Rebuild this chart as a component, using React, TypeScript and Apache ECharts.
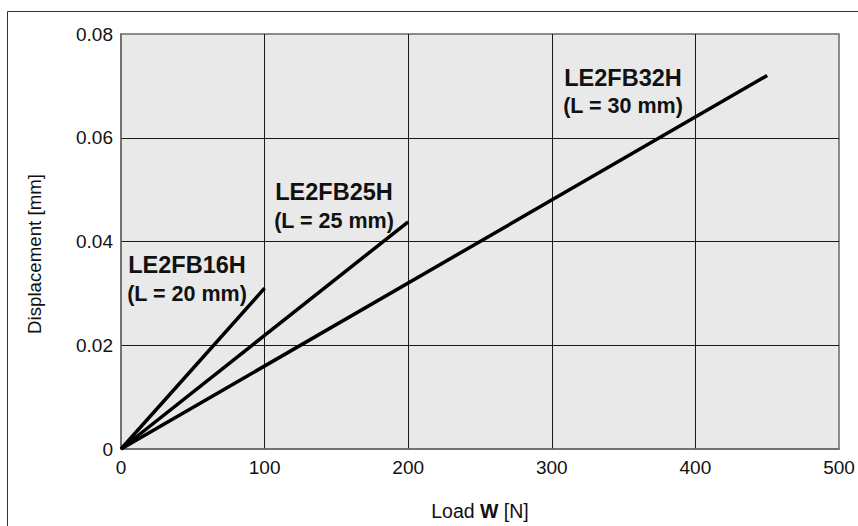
import React, { useEffect, useRef } from "react";
import * as echarts from "echarts";

const xTicks = [0, 100, 200, 300, 400, 500];
const yTicks = [0, 0.02, 0.04, 0.06, 0.08];

const seriesNames = ["LE2FB16H", "LE2FB25H", "LE2FB32H"];
const seriesSub = ["(L = 20 mm)", "(L = 25 mm)", "(L = 30 mm)"];
const loads16 = [0, 100];
const disp16 = [0, 0.031];
const loads25 = [0, 200];
const disp25 = [0, 0.0438];
const loads32 = [0, 450];
const disp32 = [0, 0.072];

const FONT = "'Liberation Sans', Arial, Helvetica, sans-serif";

export default function App() {
  const ref = useRef<HTMLDivElement>(null);
  useEffect(() => {
    if (!ref.current) return;
    const chart = echarts.init(ref.current, undefined, { renderer: "svg" });
    const mk = (xs: number[], ys: number[]) => xs.map((x, i) => [x, ys[i]]);
    const labelPos = [
      { x: 187, y1: 264.5, y2: 293.5 },
      { x: 334, y1: 191.5, y2: 220.5 },
      { x: 623, y1: 77.5, y2: 106 },
    ];
    const graphics: any[] = [
      { type: "line", shape: { x1: 7.5, y1: 11.5, x2: 858, y2: 11.5 }, style: { stroke: "#333", lineWidth: 1 } },
      { type: "line", shape: { x1: 7.5, y1: 11.5, x2: 7.5, y2: 526 }, style: { stroke: "#333", lineWidth: 1 } },
      {
        type: "text",
        x: 34,
        y: 254,
        rotation: Math.PI / 2,
        style: { text: "Displacement [mm]", font: `18.7px ${FONT}`, fill: "#111", textAlign: "center", textVerticalAlign: "middle" },
      },
    ];
    labelPos.forEach((p, i) => {
      graphics.push({
        type: "text", x: p.x, y: p.y1, z: 10,
        style: { text: seriesNames[i], font: `bold 23.5px ${FONT}`, fill: "#111", textAlign: "center", textVerticalAlign: "middle" },
      });
      graphics.push({
        type: "text", x: p.x, y: p.y2, z: 10,
        style: { text: seriesSub[i], font: `bold 21.5px ${FONT}`, fill: "#111", textAlign: "center", textVerticalAlign: "middle" },
      });
    });
    const lineStyle = { color: "#000", width: 3.5 };
    chart.setOption({
      animation: false,
      backgroundColor: "#fff",
      grid: {
        left: 121, top: 34, right: 19, bottom: 76,
        show: true, backgroundColor: "#e8e9e8", borderColor: "#6a6a6a", borderWidth: 1.5,
      },
      xAxis: {
        type: "value", min: xTicks[0], max: xTicks[xTicks.length - 1], interval: 100,
        name: "Load {b|W} [N]",
        nameLocation: "middle", nameGap: 52,
        nameTextStyle: { fontFamily: FONT, fontSize: 19.5, color: "#111", rich: { b: { fontFamily: FONT, fontSize: 19.5, fontWeight: "bold", color: "#111" } } },
        axisLine: { show: true, lineStyle: { color: "#6a6a6a", width: 1.5 } },
        axisTick: { show: false },
        axisLabel: { fontFamily: FONT, fontSize: 19, color: "#111", margin: 9 },
        splitLine: { show: true, showMinLine: false, showMaxLine: false, lineStyle: { color: "#1a1a1a", width: 1 } },
      },
      yAxis: {
        type: "value", min: yTicks[0], max: yTicks[yTicks.length - 1], interval: 0.02,
        axisLine: { show: true, lineStyle: { color: "#6a6a6a", width: 1.5 } },
        axisTick: { show: false },
        axisLabel: { fontFamily: FONT, fontSize: 19, color: "#111", margin: 8, formatter: (v: number) => (v === 0 ? "0" : v.toFixed(2)) },
        splitLine: { show: true, showMinLine: false, showMaxLine: false, lineStyle: { color: "#1a1a1a", width: 1 } },
      },
      series: [
        { name: seriesNames[0], type: "line", data: mk(loads16, disp16), showSymbol: false, lineStyle, z: 5 },
        { name: seriesNames[1], type: "line", data: mk(loads25, disp25), showSymbol: false, lineStyle, z: 5 },
        { name: seriesNames[2], type: "line", data: mk(loads32, disp32), showSymbol: false, lineStyle, z: 5 },
      ],
      graphic: graphics,
    });
    return () => chart.dispose();
  }, []);
  return <div ref={ref} style={{ position: "fixed", left: 0, top: 0, width: 858, height: 526 }} />;
}
